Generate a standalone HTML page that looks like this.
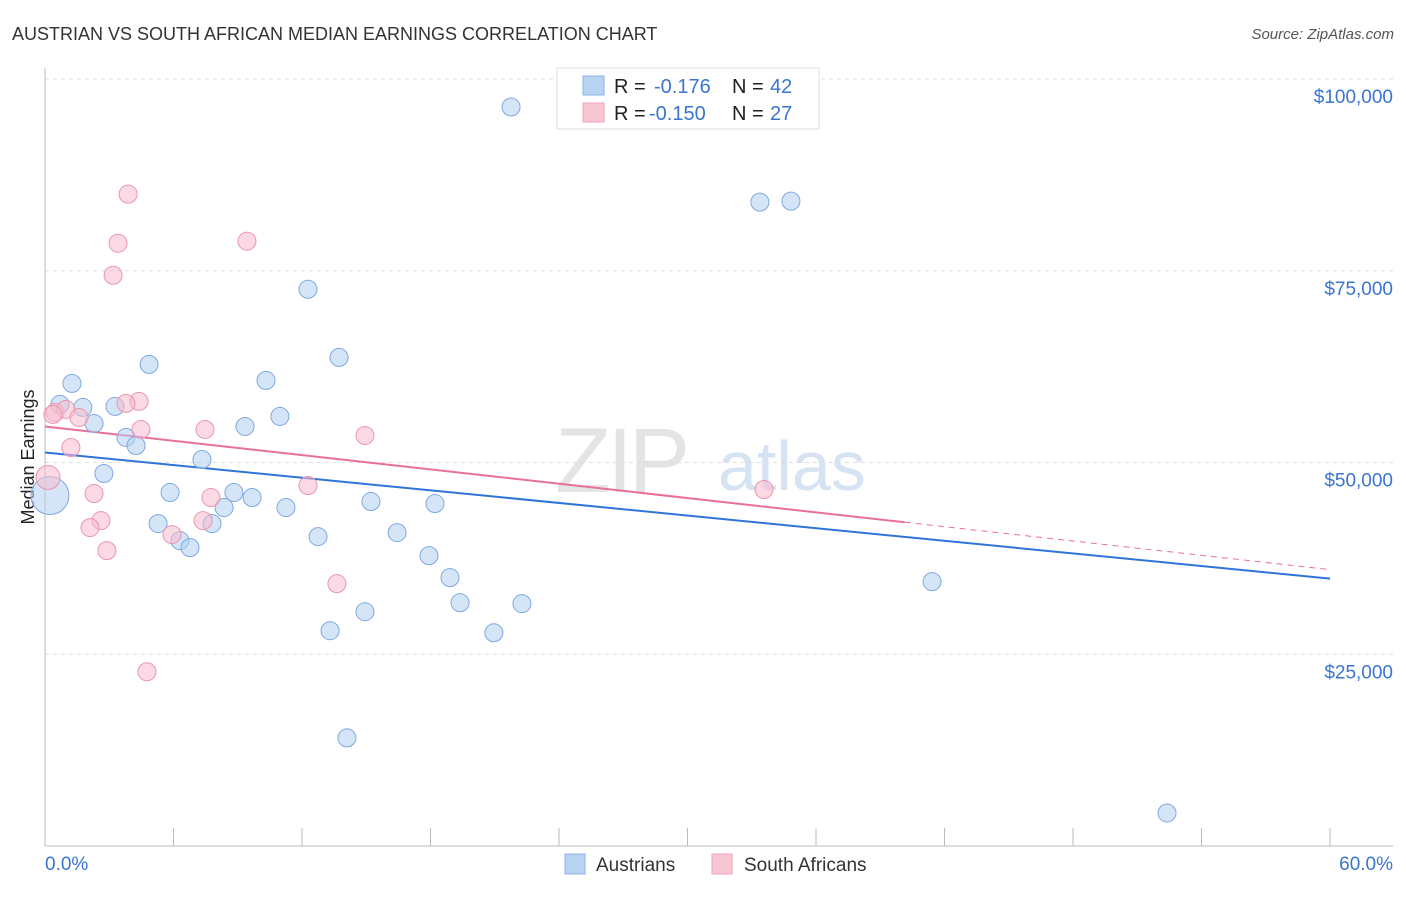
<!DOCTYPE html>
<html><head><meta charset="utf-8"><style>
body{margin:0;background:#fff;font-family:"Liberation Sans",sans-serif;}
svg text{font-family:"Liberation Sans",sans-serif;}
</style></head><body>
<svg id="chart" width="1406" height="892" xmlns="http://www.w3.org/2000/svg">
<text x="12" y="40" font-size="18" fill="#333">AUSTRIAN VS SOUTH AFRICAN MEDIAN EARNINGS CORRELATION CHART</text>
<text x="1394" y="39" font-size="15" fill="#555" text-anchor="end" font-style="italic">Source: ZipAtlas.com</text>
<text x="34" y="457" font-size="18" fill="#222" text-anchor="middle" transform="rotate(-90 34 457)">Median Earnings</text>
<g><text x="555" y="492" font-size="92" fill="#e4e4e4" font-family="Liberation Serif" letter-spacing="-4">ZIP</text><text x="718" y="490" font-size="70" fill="#d6e3f3">atlas</text></g>
<g id="grid"></g><g id="axes"></g><g id="lines"></g><g id="pts"></g>
<g>
<rect x="557" y="68" width="262" height="61" fill="#fff" stroke="#ddd"/>
<rect x="583" y="76" width="21" height="19" fill="#b9d3f3" stroke="#8fb3e6"/>
<rect x="583" y="103" width="21" height="19" fill="#f9c6d4" stroke="#efa3bb"/>
<text x="614" y="93" font-size="20" fill="#222">R = </text><text x="654" y="93" font-size="20" fill="#3a75d0">-0.176</text>
<text x="732" y="93" font-size="20" fill="#222">N = </text><text x="770" y="93" font-size="20" fill="#3a75d0">42</text>
<text x="614" y="120" font-size="20" fill="#222">R = </text><text x="649" y="120" font-size="20" fill="#3a75d0">-0.150</text>
<text x="732" y="120" font-size="20" fill="#222">N = </text><text x="770" y="120" font-size="20" fill="#3a75d0">27</text>
</g>
<g>
<rect x="565" y="854" width="20" height="20" fill="#b9d3f3" stroke="#8fb3e6"/>
<text x="596" y="871" font-size="19" fill="#333">Austrians</text>
<rect x="712" y="854" width="20" height="20" fill="#f9c6d4" stroke="#efa3bb"/>
<text x="744" y="871" font-size="19" fill="#333">South Africans</text>
</g>
</svg>
<script>
const yTicks=[25000,50000,75000,100000];
const yTickLabels=["$25,000","$50,000","$75,000","$100,000"];
const xTickLabels=["0.0%","60.0%"];
const ausX=[21.76,33.38,34.83,12.28,13.73,4.86,1.26,10.32,0.70,1.77,3.27,10.97,2.29,9.34,3.78,4.25,7.33,2.75,5.84,8.82,9.67,8.36,11.25,15.22,18.21,5.28,7.80,6.30,6.77,12.75,16.44,17.93,18.91,19.38,22.27,14.94,13.31,20.96,41.42,14.10,52.39,0.23];
const ausY=[96346,83944,84074,72586,63708,62795,60314,60706,57573,57181,57311,56006,55092,54700,53264,52220,50392,48565,46084,46084,45431,44126,44126,44909,44648,42037,42037,39818,38904,40340,40862,37860,34987,31724,31593,30549,28068,27807,34465,14099,4308,45693];
const saX=[3.88,3.41,9.43,3.18,4.39,3.78,0.47,0.98,1.59,4.48,7.47,14.94,1.21,0.14,2.29,7.75,12.28,33.57,2.61,2.10,7.38,5.93,2.89,13.63,4.76,0.37];
const saY=[84988,78591,78852,74414,57964,57703,56528,56920,55875,54309,54309,53526,51959,48042,45954,45431,46998,46476,42429,41515,42429,40602,38512,34204,22716,56267];
const ausTrend=[51306,34857];
const saTrend=[54700,36032];
const saSolidEnd=40.15;
const X0=45,X1=1330,Y0=846;
function sx(v){return X0+v/60*(X1-X0);}
function sy(v){return Y0-v/25000*191.75;}
const NS="http://www.w3.org/2000/svg";
function mk(tag,attrs,parent){const e=document.createElementNS(NS,tag);for(const k in attrs)e.setAttribute(k,attrs[k]);document.getElementById(parent).appendChild(e);return e;}
yTicks.forEach((t,i)=>{
 const l=mk('line',{x1:X0,x2:1393,y1:sy(t),y2:sy(t),stroke:'#ddd','stroke-dasharray':'4,4'},'grid');
 
 
 const tx=mk('text',{x:1393,y:sy(t)+24,'font-size':19,fill:'#3a75d0','text-anchor':'end'},'grid');
 tx.textContent=yTickLabels[i];
 
 
});
let a=mk('line',{x1:X0,x2:X0,y1:68,y2:Y0,stroke:'#bbb'},'axes');


a=mk('line',{x1:X0,x2:1393,y1:Y0,y2:Y0,stroke:'#bbb'},'axes');


for(let i=0;i<=10;i++){
 const t=mk('line',{x1:sx(i*6),x2:sx(i*6),y1:Y0,y2:828,stroke:'#bbb'},'axes');
 
 
}
[[0,'start',X0],[60,'end',1393]].forEach((d,i)=>{
 const t=mk('text',{x:d[2],y:870,'font-size':19,fill:'#3a75d0','text-anchor':d[1]},'axes');
 t.textContent=xTickLabels[i];
 
 
});
function pts(xs,ys,fill,stroke,name){
 xs.forEach((x,i)=>{
  const big=(name==='austrian-point'&&i===xs.length-1)?19:(name==='south-african-point'&&x<0.2?12:9);
  const c=mk('circle',{cx:sx(x),cy:sy(ys[i]),r:big,fill:fill,'fill-opacity':0.55,stroke:stroke,'stroke-width':1},'pts');
  
  
 });
}
pts(ausX,ausY,'#b3cff2','#7fa8e0','austrian-point');
pts(saX,saY,'#f7bccd','#ea95b0','south-african-point');
let ln=mk('line',{x1:sx(0),y1:sy(ausTrend[0]),x2:sx(60),y2:sy(ausTrend[1]),stroke:'#2f74d8','stroke-width':2},'lines');


const saAt=v=>saTrend[0]+(saTrend[1]-saTrend[0])*v/60;
ln=mk('line',{x1:sx(0),y1:sy(saTrend[0]),x2:sx(saSolidEnd),y2:sy(saAt(saSolidEnd)),stroke:'#e8709a','stroke-width':2},'lines');


ln=mk('line',{x1:sx(saSolidEnd),y1:sy(saAt(saSolidEnd)),x2:sx(60),y2:sy(saTrend[1]),stroke:'#e8709a','stroke-width':1,'stroke-dasharray':'6,5'},'lines');


</script>
</body></html>
